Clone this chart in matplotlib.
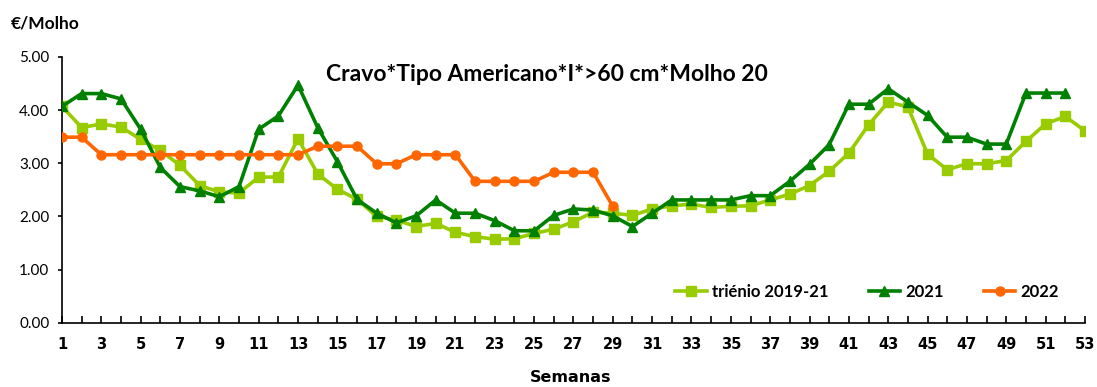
import matplotlib
matplotlib.use("Agg")
import matplotlib.pyplot as plt

# weeks 1..53
semanas = list(range(1, 54))

trienio = [4.07, 3.67, 3.74, 3.68, 3.45, 3.24, 2.96, 2.58, 2.46, 2.44,
           2.74, 2.74, 3.46, 2.80, 2.51, 2.32, 2.00, 1.93, 1.81, 1.87,
           1.70, 1.62, 1.57, 1.58, 1.68, 1.76, 1.90, 2.08, 2.06, 2.02,
           2.14, 2.20, 2.23, 2.17, 2.19, 2.20, 2.31, 2.42, 2.58, 2.85,
           3.19, 3.72, 4.15, 4.06, 3.17, 2.88, 2.99, 2.99, 3.05, 3.41,
           3.74, 3.88, 3.61]

ano_2021 = [4.07, 4.31, 4.31, 4.21, 3.64, 2.92, 2.56, 2.48, 2.37, 2.56,
            3.64, 3.89, 4.47, 3.67, 3.03, 2.32, 2.06, 1.88, 2.01, 2.31,
            2.06, 2.06, 1.92, 1.73, 1.73, 2.02, 2.14, 2.12, 2.01, 1.81,
            2.06, 2.31, 2.31, 2.31, 2.31, 2.39, 2.39, 2.66, 2.98, 3.35,
            4.11, 4.11, 4.40, 4.15, 3.90, 3.49, 3.49, 3.36, 3.36, 4.32,
            4.32, 4.32]

ano_2022 = [3.49, 3.49, 3.16, 3.16, 3.16, 3.16, 3.16, 3.16, 3.16, 3.16,
            3.16, 3.16, 3.16, 3.32, 3.32, 3.32, 2.99, 2.99, 3.16, 3.16,
            3.16, 2.66, 2.66, 2.66, 2.66, 2.83, 2.83, 2.83, 2.19]

xtick_labels = [str(s) if s % 2 == 1 else "" for s in semanas]

plt.rcParams['font.family'] = ['Lato', 'DejaVu Sans']
NARROW = ['Liberation Sans Narrow', 'DejaVu Sans']

fig = plt.figure(figsize=(10.97, 3.87), dpi=100)
ax = fig.add_axes([0.0565, 0.166, 0.9325, 0.687])

ax.plot(semanas, trienio, color='#99CC00', lw=2.6, marker='s', ms=6.5,
        label='triénio 2019-21', zorder=3)
ax.plot(semanas[:len(ano_2021)], ano_2021, color='#008000', lw=2.6, marker='^', ms=7,
        label='2021', zorder=4)
ax.plot(semanas[:len(ano_2022)], ano_2022, color='#FF6600', lw=2.6, marker='o', ms=6.5,
        label='2022', zorder=5)

ax.set_xlim(1, 53)
ax.set_ylim(0, 5)
ax.set_xticks(semanas)
ax.set_xticklabels(xtick_labels, fontweight='bold', fontsize=10.5, family=NARROW)
ax.set_yticks([0, 1, 2, 3, 4, 5])
ax.set_yticklabels([f"{v:.2f}" for v in [0, 1, 2, 3, 4, 5]], fontsize=11)
ax.tick_params(axis='x', direction='in', length=5, width=1.2, pad=10)
ax.tick_params(axis='y', direction='out', length=3, width=1.2, pad=6)

ax.spines['top'].set_visible(False)
ax.spines['right'].set_visible(False)
ax.spines['left'].set_linewidth(1.2)
ax.spines['bottom'].set_linewidth(1.2)

ax.text(0.474, 0.935, "Cravo*Tipo Americano*I*>60 cm*Molho 20", transform=ax.transAxes,
        fontsize=16.5, fontweight='bold', ha='center', va='center')
fig.text(0.01, 0.94, "€/Molho", fontsize=12.5, fontweight='bold', ha='left', va='center')
fig.text(0.52, 0.025, "Semanas", fontsize=11.5, fontweight='bold', ha='center', va='center',
         family=NARROW)

leg = ax.legend(loc='center left', bbox_to_anchor=(0.585, 0.115), ncol=3,
                frameon=False, handlelength=1.9, columnspacing=2.4,
                handletextpad=0.3, prop={'weight': 'bold', 'size': 12})

fig.savefig("out.png", dpi=100)
